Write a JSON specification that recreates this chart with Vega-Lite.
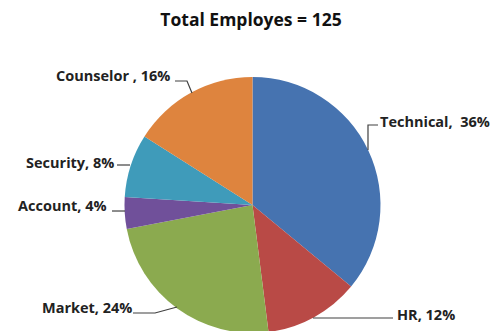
{
  "$schema": "https://vega.github.io/schema/vega-lite/v6.json",
  "width": 490,
  "height": 331,
  "autosize": "none",
  "padding": 0,
  "background": "white",
  "config": {"view": {"stroke": null}},
  "datasets": {
    "slices": [
      {"name": "Technical", "pct": 36, "ord": 1},
      {"name": "HR", "pct": 12, "ord": 2},
      {"name": "Market", "pct": 24, "ord": 3},
      {"name": "Account", "pct": 4, "ord": 4},
      {"name": "Security", "pct": 8, "ord": 5},
      {"name": "Counselor", "pct": 16, "ord": 6}
    ],
    "leaders": [
      {"lab": "Counselor", "seq": 1, "u": -0.6055, "v": 0.96875},
      {"lab": "Counselor", "seq": 2, "u": -0.5117, "v": 0.96875},
      {"lab": "Counselor", "seq": 3, "u": -0.4727, "v": 0.875},
      {"lab": "Security", "seq": 1, "u": -1.0586, "v": 0.3125},
      {"lab": "Security", "seq": 2, "u": -0.957, "v": 0.3125},
      {"lab": "Account", "seq": 1, "u": -1.0977, "v": -0.0469},
      {"lab": "Account", "seq": 2, "u": -0.9961, "v": -0.0469},
      {"lab": "Market", "seq": 1, "u": -0.9336, "v": -0.84375},
      {"lab": "Market", "seq": 2, "u": -0.7617, "v": -0.84375},
      {"lab": "Market", "seq": 3, "u": -0.5898, "v": -0.7969},
      {"lab": "Technical", "seq": 1, "u": 0.9805, "v": 0.625},
      {"lab": "Technical", "seq": 2, "u": 0.9023, "v": 0.625},
      {"lab": "Technical", "seq": 3, "u": 0.9023, "v": 0.4297},
      {"lab": "HR", "seq": 1, "u": 0.4727, "v": -0.8828},
      {"lab": "HR", "seq": 2, "u": 1.0977, "v": -0.8828}
    ],
    "labels": [
      {"text": "Counselor , 16%", "u": -1.5352, "v": 0.96875},
      {"text": "Security, 8%", "u": -1.7695, "v": 0.2891},
      {"text": "Account, 4%", "u": -1.832, "v": -0.0469},
      {"text": "Market, 24%", "u": -1.6445, "v": -0.84375},
      {"text": "Technical, \u00a036%", "u": 0.9961, "v": 0.6094},
      {"text": "HR, 12%", "u": 1.1289, "v": -0.8984}
    ],
    "titles": [
      {"text": "Total Employes = 125", "u": -0.0117, "v": 1.3984}
    ]
  },
  "layer": [
    {
      "data": {"name": "slices"},
      "mark": {"type": "arc", "radius": 128},
      "encoding": {
        "theta": {"field": "pct", "type": "quantitative", "stack": true},
        "order": {"field": "ord", "type": "quantitative"},
        "color": {
          "field": "name",
          "type": "nominal",
          "legend": null,
          "scale": {
            "domain": ["Technical", "HR", "Market", "Account", "Security", "Counselor"],
            "range": ["#4673B0", "#B94A46", "#8BAA4F", "#70509A", "#3F9BBA", "#DE843E"]
          }
        },
        "x": {"datum": 0, "type": "quantitative", "scale": {"domain": [-1.97266, 1.85547], "nice": false, "zero": false}, "axis": null},
        "y": {"datum": 0, "type": "quantitative", "scale": {"domain": [-0.984375, 1.6016], "nice": false, "zero": false}, "axis": null}
      }
    },
    {
      "data": {"name": "leaders"},
      "mark": {"type": "line", "color": "#404040", "strokeWidth": 1.2},
      "encoding": {
        "x": {"field": "u", "type": "quantitative"},
        "y": {"field": "v", "type": "quantitative"},
        "detail": {"field": "lab"},
        "order": {"field": "seq", "type": "quantitative"}
      }
    },
    {
      "data": {"name": "labels"},
      "mark": {"type": "text", "align": "left", "baseline": "alphabetic", "font": "Open Sans", "fontSize": 14.5, "fontWeight": "bold", "color": "#222222"},
      "encoding": {
        "x": {"field": "u", "type": "quantitative"},
        "y": {"field": "v", "type": "quantitative"},
        "text": {"field": "text"}
      }
    },
    {
      "data": {"name": "titles"},
      "mark": {"type": "text", "align": "center", "baseline": "alphabetic", "font": "Open Sans", "fontSize": 17.5, "fontWeight": "bold", "color": "#111111"},
      "encoding": {
        "x": {"field": "u", "type": "quantitative"},
        "y": {"field": "v", "type": "quantitative"},
        "text": {"field": "text"}
      }
    }
  ]
}
